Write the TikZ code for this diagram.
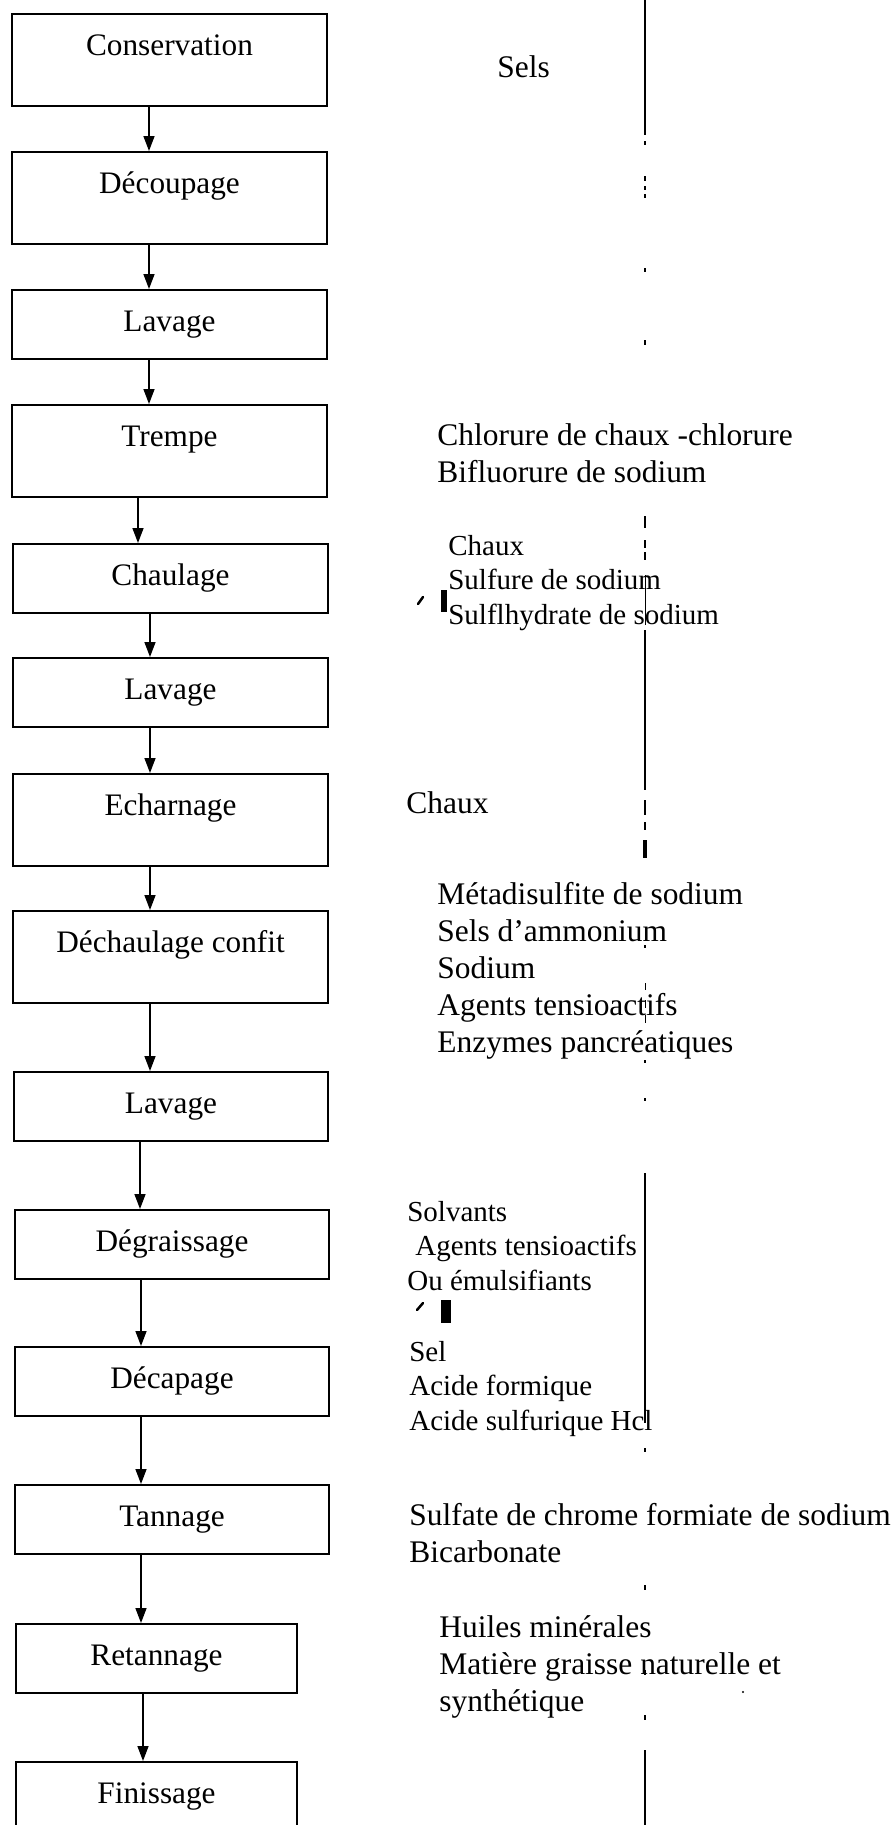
\documentclass[tikz,border=0pt]{standalone}
\usepackage{fontspec}
\setmainfont{Liberation Serif}
\usetikzlibrary{arrows.meta}

\tikzset{
  stepbox/.style={draw, rectangle, line width=0.4mm, anchor=north,
    inner xsep=0pt, inner ysep=0pt, minimum width=62.8mm,
    text height=8.2mm, text depth=5.6mm, font=\fontsize{17.8}{21}\selectfont},
  tallbox/.style={stepbox, text depth=10.2mm},
  flow/.style={line width=0.3mm, -{Triangle[length=3mm, width=2.2mm]}},
  agents/.style={anchor=base west, align=left, inner sep=0pt,
    font=\fontsize{17.9}{21}\selectfont},
  agentsmall/.style={agents, font=\fontsize{16.5}{19.6}\selectfont},
  rule/.style={line width=0.3mm},
}

\begin{document}
\begin{tikzpicture}[x=0.2mm, y=-0.2mm]
    \useasboundingbox (0,0) rectangle (896,1825);
    \clip (0,0) rectangle (896,1825);

    % Process steps
    \node[tallbox] (conservation) at (169.5,13) {Conservation};
    \node[tallbox] (decoupage) at (169.5,151) {Découpage};
    \node[stepbox] (lavageA) at (169.5,289) {Lavage};
    \node[tallbox] (trempe) at (169.5,404) {Trempe};
    \node[stepbox] (chaulage) at (170.5,543) {Chaulage};
    \node[stepbox] (lavageB) at (170.5,657) {Lavage};
    \node[tallbox] (echarnage) at (170.5,773) {Echarnage};
    \node[tallbox] (dechaulage) at (170.5,910) {Déchaulage confit};
    \node[stepbox] (lavageC) at (171,1071) {Lavage};
    \node[stepbox] (degraissage) at (172,1209) {Dégraissage};
    \node[stepbox] (decapage) at (172,1346) {Décapage};
    \node[stepbox] (tannage) at (172,1484) {Tannage};
    \node[stepbox, minimum width=56.2mm] (retannage) at (156.5,1623) {Retannage};
    \node[tallbox, minimum width=56.2mm] (finissage) at (156.5,1761) {Finissage};

    % Flow
    \draw[flow] (conservation.south -| 149,0) -- (decoupage.north -| 149,0);
    \draw[flow] (decoupage.south -| 149,0) -- (lavageA.north -| 149,0);
    \draw[flow] (lavageA.south -| 149,0) -- (trempe.north -| 149,0);
    \draw[flow] (trempe.south -| 138,0) -- (chaulage.north -| 138,0);
    \draw[flow] (chaulage.south -| 150,0) -- (lavageB.north -| 150,0);
    \draw[flow] (lavageB.south -| 150,0) -- (echarnage.north -| 150,0);
    \draw[flow] (echarnage.south -| 150,0) -- (dechaulage.north -| 150,0);
    \draw[flow] (dechaulage.south -| 150,0) -- (lavageC.north -| 150,0);
    \draw[flow] (lavageC.south -| 140,0) -- (degraissage.north -| 140,0);
    \draw[flow] (degraissage.south -| 141,0) -- (decapage.north -| 141,0);
    \draw[flow] (decapage.south -| 141,0) -- (tannage.north -| 141,0);
    \draw[flow] (tannage.south -| 141,0) -- (retannage.north -| 141,0);
    \draw[flow] (retannage.south -| 143,0) -- (finissage.north -| 143,0);

    % Products (anchored on the last line)
    \node[agents] (selsAg) at (497,77) {Sels};
    \node[agents] (trempeAg) at (437,482) {Chlorure de chaux -chlorure\\Bifluorure de sodium};
    \node[agentsmall] (chaulageAg) at (448,624) {Chaux\\Sulfure de sodium\\Sulflhydrate de sodium};
    \node[agents] (echarnageAg) at (406,813) {Chaux};
    \node[agents] (dechaulageAg) at (437,1052) {Métadisulfite de sodium\\Sels d’ammonium\\Sodium\\Agents tensioactifs\\Enzymes pancréatiques};
    \node[agentsmall] (degraissageAg) at (407,1290) {Solvants\\\hspace{1.6mm}Agents tensioactifs\\Ou émulsifiants};
    \node[agentsmall] (decapageAg) at (409,1430) {Sel\\Acide formique\\Acide sulfurique Hcl};
    \node[agents] (tannageAg) at (409,1562) {Sulfate de chrome formiate de sodium\\Bicarbonate};
    \node[agents] (retannageAg) at (439,1711) {Huiles minérales\\Matière graisse naturelle et\\synthétique};

    % Separator (broken in the scan)
    \draw[rule] (645,0) -- (645,135) (645,141) -- (645,145)
      (645,176) -- (645,181) (645,186) -- (645,190) (645,194) -- (645,198)
      (645,268) -- (645,272) (645,340) -- (645,345) (645,516) -- (645,528)
      (645,540) -- (645,548) (645,552) -- (645,560) (645,630) -- (645,790)
      (645,800) -- (645,815) (645,822) -- (645,830) (645,945) -- (645,948)
      (645,1060) -- (645,1063) (645,1098) -- (645,1101) (645,1173) -- (645,1423)
      (645,1448) -- (645,1452) (645,1585) -- (645,1590) (645,1670) -- (645,1675)
      (645,1715) -- (645,1720) (645,1750) -- (645,1825);
    \draw[line width=0.15mm] (645,575) -- (645,625) (645,983) -- (645,990)
      (645,1000) -- (645,1008) (645,1015) -- (645,1023);
    \draw[line width=0.8mm] (645,840) -- (645,858);

    % Scan marks
    \draw[line width=0.5mm, line cap=round] (418,604) -- (423,597);
    \fill (441,590) rectangle (447,612);
    \draw[line width=0.5mm, line cap=round] (417,1310) -- (423,1303);
    \fill (441,1300) rectangle (451,1323);
    \fill (743,1692) circle (1.2);
  \end{tikzpicture}
\end{document}
